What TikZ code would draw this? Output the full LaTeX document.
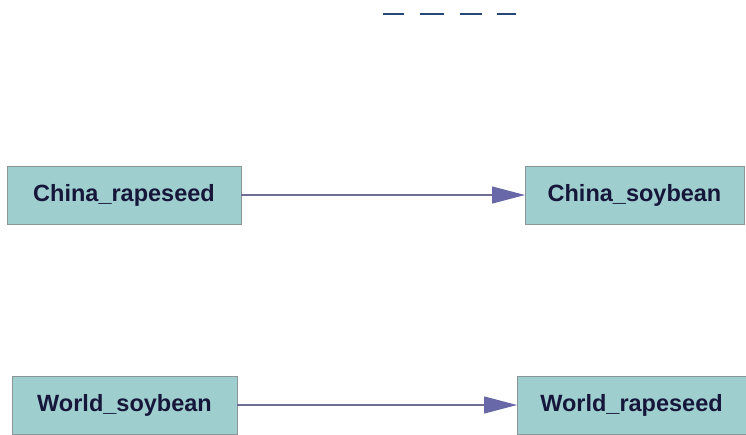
\documentclass[tikz,border=0pt]{standalone}
\usepackage{fontspec}
\setsansfont{Liberation Sans}
\usetikzlibrary{arrows.meta}
\definecolor{boxfill}{RGB}{158,206,206}
\definecolor{boxline}{RGB}{140,150,150}
\definecolor{labeltext}{RGB}{22,22,58}
\definecolor{edgeline}{RGB}{110,110,150}
\definecolor{edgehead}{RGB}{104,104,168}
\definecolor{dashblue}{RGB}{40,70,120}

\begin{document}
\begin{tikzpicture}[x=1pt,y=-1pt]
\tikzstyle{crop}=[draw=boxline,fill=boxfill,outer sep=0pt,minimum height=58pt,inner sep=0pt,font=\sffamily\bfseries\fontsize{23.5}{26}\selectfont,text=labeltext]
\tikzstyle{link}=[edgeline,line width=1.2pt,-{Triangle[length=33pt,width=17pt,fill=edgehead,color=edgehead]}]

\useasboundingbox (0,0) rectangle (746,434);

\node (CR) [crop,minimum width=234pt] at (124,195) {China\_rapeseed};
\node (CS) [crop,minimum width=219pt] at (634.5,195) {China\_soybean};
\node (WS) [crop,minimum width=225pt] at (124.5,405) {World\_soybean};
\node (WR) [crop,minimum width=229pt] at (631.5,405) {World\_rapeseed};

\draw [link] (CR.east) -- (CS.west);
\draw [link] (WS.east) -- (WR.west);

% cut-off marks along the top edge
\foreach \a/\b in {383/404,420/444,460/482,497/516}
  \draw [dashblue,line width=1.5pt] (\a,14) -- (\b,14);

\end{tikzpicture}
\end{document}
